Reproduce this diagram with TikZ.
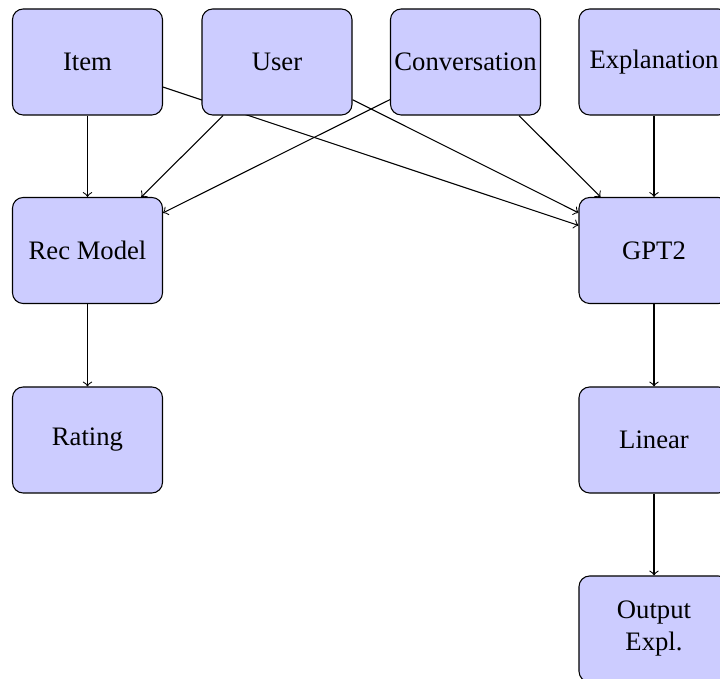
\documentclass[tikz,border=0pt]{standalone}
\usepackage{fontspec}
\setmainfont{Liberation Serif}
\usetikzlibrary{backgrounds}
\tikzset{
  box/.style={draw=black, fill=blue!20, rounded corners=4pt, minimum width=56.25pt, minimum height=39.75pt, align=center, inner sep=1pt, font=\fontsize{10}{12}\selectfont},
  link/.style={->, draw=black, line width=0.4pt}
}
\begin{document}
\begin{tikzpicture}[x=0.375pt,y=-0.375pt]
\useasboundingbox (0,0) rectangle (720,679);
\node[box] (item) at (87.5,62) {Item};
\node[box] (user) at (277,62) {User};
\node[box] (conv) at (465.5,62) {Conversation};
\node[box] (expl) at (654,62) {Explanation};
\node[box] (rec) at (87.5,250.5) {Rec Model};
\node[box] (gpt) at (654,250.5) {GPT2};
\node[box] (rating) at (87.5,440) {Rating};
\node[box] (linear) at (654,440) {Linear};
\node[box] (out) at (654,629) {Output\\Expl.};
\begin{pgfonlayer}{background}
\draw[link] (item) -- (rec);
\draw[link] (user) -- (rec);
\draw[link] (conv) -- (rec);
\draw[link] (item) -- (gpt);
\draw[link] (user) -- (gpt);
\draw[link] (conv) -- (gpt);
\draw[link] (expl) -- (gpt);
\draw[link] (rec) -- (rating);
\draw[link] (gpt) -- (linear);
\draw[link] (linear) -- (out);
\end{pgfonlayer}
\end{tikzpicture}
\end{document}
